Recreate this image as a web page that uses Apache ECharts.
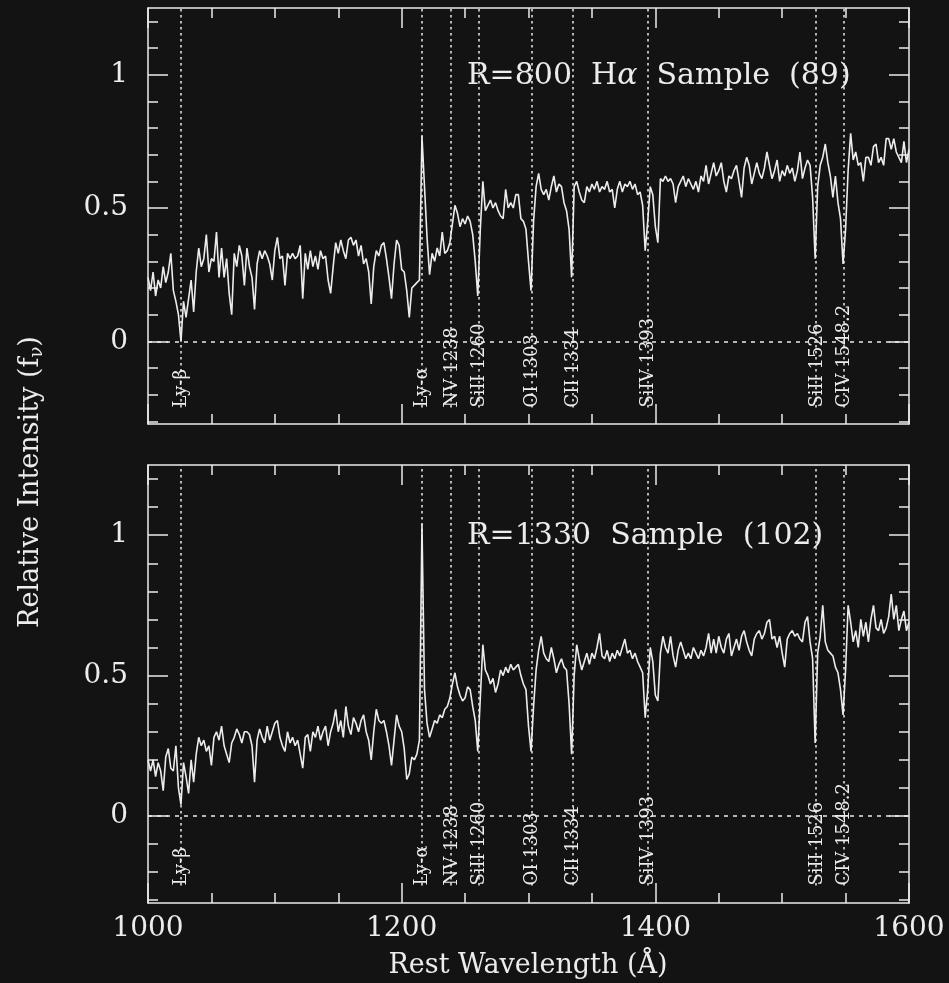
<!DOCTYPE html>
<html>
<head>
<meta charset="utf-8">
<title>Composite spectra</title>
<script src="https://cdn.jsdelivr.net/npm/echarts@6/dist/echarts.min.js"></script>
<style>
  html, body { margin: 0; padding: 0; background: #131313; }
  #chart { width: 949px; height: 983px; }
</style>
</head>
<body>
<div id="chart"></div>
<script>
// wavelength grid of both composite spectra (Å)
const waveStart = 1000;
const waveStep = 2;

// R=800 Hα sample, one value every 2 Å from 1000 to 1600
const fluxR800 = [
  0.24, 0.19, 0.26, 0.17, 0.23, 0.20, 0.28, 0.22, 0.26, 0.33,
  0.19, 0.15, 0.10, 0.00, 0.15, 0.09, 0.16, 0.23, 0.11, 0.26,
  0.35, 0.28, 0.31, 0.40, 0.26, 0.31, 0.30, 0.41, 0.24, 0.35,
  0.24, 0.31, 0.18, 0.10, 0.33, 0.28, 0.36, 0.32, 0.21, 0.35,
  0.28, 0.24, 0.12, 0.29, 0.34, 0.31, 0.34, 0.32, 0.29, 0.23,
  0.34, 0.39, 0.31, 0.32, 0.21, 0.33, 0.31, 0.33, 0.31, 0.32,
  0.36, 0.16, 0.33, 0.27, 0.34, 0.28, 0.32, 0.27, 0.34, 0.31,
  0.32, 0.23, 0.18, 0.28, 0.37, 0.33, 0.38, 0.34, 0.31, 0.38,
  0.39, 0.36, 0.38, 0.32, 0.36, 0.29, 0.31, 0.26, 0.14, 0.28,
  0.34, 0.32, 0.36, 0.37, 0.31, 0.24, 0.16, 0.29, 0.38, 0.36,
  0.27, 0.26, 0.19, 0.09, 0.20, 0.21, 0.22, 0.23, 0.77, 0.58,
  0.39, 0.25, 0.33, 0.30, 0.35, 0.32, 0.41, 0.33, 0.34, 0.37,
  0.44, 0.51, 0.48, 0.43, 0.46, 0.44, 0.47, 0.45, 0.40, 0.30,
  0.17, 0.42, 0.60, 0.49, 0.51, 0.53, 0.50, 0.52, 0.49, 0.47,
  0.46, 0.57, 0.50, 0.52, 0.50, 0.55, 0.55, 0.46, 0.45, 0.42,
  0.30, 0.19, 0.45, 0.58, 0.63, 0.57, 0.55, 0.57, 0.53, 0.58,
  0.62, 0.56, 0.59, 0.58, 0.52, 0.49, 0.42, 0.24, 0.58, 0.60,
  0.56, 0.53, 0.52, 0.58, 0.56, 0.59, 0.57, 0.60, 0.56, 0.58,
  0.57, 0.60, 0.56, 0.57, 0.50, 0.57, 0.60, 0.56, 0.59, 0.58,
  0.60, 0.57, 0.59, 0.55, 0.56, 0.51, 0.34, 0.45, 0.58, 0.55,
  0.43, 0.37, 0.61, 0.60, 0.62, 0.60, 0.61, 0.59, 0.52, 0.58,
  0.60, 0.62, 0.58, 0.61, 0.59, 0.57, 0.60, 0.56, 0.62, 0.60,
  0.66, 0.59, 0.63, 0.67, 0.62, 0.64, 0.67, 0.60, 0.56, 0.62,
  0.61, 0.64, 0.66, 0.60, 0.54, 0.65, 0.69, 0.66, 0.59, 0.63,
  0.67, 0.63, 0.61, 0.65, 0.71, 0.66, 0.61, 0.64, 0.68, 0.60,
  0.64, 0.62, 0.66, 0.63, 0.65, 0.60, 0.64, 0.71, 0.61, 0.65,
  0.68, 0.66, 0.54, 0.31, 0.58, 0.66, 0.69, 0.74, 0.67, 0.62,
  0.54, 0.62, 0.52, 0.46, 0.29, 0.42, 0.64, 0.78, 0.68, 0.71,
  0.66, 0.67, 0.60, 0.69, 0.69, 0.66, 0.73, 0.74, 0.67, 0.69,
  0.66, 0.76, 0.76, 0.72, 0.76, 0.71, 0.69, 0.67, 0.75, 0.67,
  0.72
];

// R=1330 sample, same grid
const fluxR1330 = [
  0.20, 0.16, 0.20, 0.14, 0.19, 0.16, 0.09, 0.21, 0.24, 0.17,
  0.16, 0.25, 0.10, 0.04, 0.19, 0.14, 0.08, 0.20, 0.12, 0.22,
  0.28, 0.25, 0.27, 0.23, 0.25, 0.18, 0.28, 0.30, 0.27, 0.32,
  0.25, 0.22, 0.19, 0.26, 0.28, 0.31, 0.29, 0.26, 0.30, 0.30,
  0.29, 0.25, 0.12, 0.27, 0.31, 0.28, 0.26, 0.32, 0.27, 0.30,
  0.33, 0.34, 0.28, 0.25, 0.23, 0.30, 0.26, 0.28, 0.25, 0.27,
  0.22, 0.17, 0.28, 0.29, 0.23, 0.30, 0.28, 0.32, 0.27, 0.30,
  0.32, 0.25, 0.30, 0.33, 0.38, 0.30, 0.34, 0.28, 0.39, 0.32,
  0.29, 0.35, 0.33, 0.30, 0.34, 0.36, 0.30, 0.27, 0.20, 0.30,
  0.38, 0.34, 0.33, 0.34, 0.30, 0.25, 0.18, 0.27, 0.36, 0.32,
  0.30, 0.24, 0.13, 0.15, 0.21, 0.20, 0.22, 0.27, 1.04, 0.45,
  0.33, 0.28, 0.31, 0.34, 0.33, 0.36, 0.35, 0.38, 0.39, 0.42,
  0.47, 0.51, 0.46, 0.43, 0.41, 0.42, 0.46, 0.45, 0.39, 0.34,
  0.23, 0.42, 0.61, 0.52, 0.50, 0.47, 0.49, 0.44, 0.47, 0.52,
  0.50, 0.53, 0.51, 0.54, 0.52, 0.53, 0.54, 0.50, 0.47, 0.45,
  0.32, 0.23, 0.39, 0.52, 0.59, 0.64, 0.58, 0.56, 0.55, 0.60,
  0.56, 0.51, 0.54, 0.56, 0.53, 0.52, 0.40, 0.22, 0.50, 0.61,
  0.56, 0.52, 0.55, 0.58, 0.54, 0.58, 0.56, 0.60, 0.65, 0.57,
  0.56, 0.59, 0.55, 0.58, 0.56, 0.59, 0.57, 0.60, 0.63, 0.58,
  0.59, 0.56, 0.58, 0.55, 0.53, 0.51, 0.35, 0.45, 0.60, 0.55,
  0.43, 0.41, 0.58, 0.64, 0.60, 0.58, 0.64, 0.57, 0.53, 0.59,
  0.62, 0.59, 0.56, 0.58, 0.56, 0.60, 0.58, 0.56, 0.59, 0.57,
  0.60, 0.65, 0.58, 0.63, 0.58, 0.64, 0.60, 0.58, 0.63, 0.65,
  0.57, 0.60, 0.63, 0.59, 0.64, 0.66, 0.62, 0.59, 0.57, 0.63,
  0.65, 0.66, 0.63, 0.65, 0.69, 0.70, 0.63, 0.64, 0.60, 0.64,
  0.58, 0.53, 0.63, 0.65, 0.66, 0.64, 0.65, 0.63, 0.62, 0.69,
  0.71, 0.62, 0.56, 0.26, 0.58, 0.64, 0.75, 0.62, 0.59, 0.58,
  0.57, 0.53, 0.51, 0.45, 0.36, 0.52, 0.75, 0.69, 0.62, 0.66,
  0.60, 0.70, 0.64, 0.69, 0.62, 0.70, 0.75, 0.67, 0.66, 0.70,
  0.65, 0.67, 0.71, 0.79, 0.70, 0.75, 0.66, 0.70, 0.73, 0.66,
  0.69
];

// identified lines
const lineWaves = [1025.7, 1215.7, 1238.8, 1260.4, 1302.2, 1334.5, 1393.8, 1526.7, 1548.2];
const lineNames = ['Ly-β', 'Ly-α', 'NV 1238', 'SiII 1260', 'OI 1303', 'CII 1334', 'SiIV 1393', 'SiII 1526', 'CIV 1548.2'];

// axes
const xMin = 1000, xMax = 1600, xStep = 200;
const yMin = -0.31, yMax = 1.25;
const yMajorTicks = [0, 0.5, 1];
const yMinorTicks = [-0.3, -0.2, -0.1, 0.1, 0.2, 0.3, 0.4, 0.6, 0.7, 0.8, 0.9, 1.1, 1.2];
const lineLabelBase = -0.248;

const ink = '#ececec';
const serif = '"DejaVu Serif", "Liberation Serif", serif';

const panels = [
  { flux: fluxR800, top: 8, height: 416, title: 'R=800  H{it|α}  Sample  (89)', titleY: 76 },
  { flux: fluxR1330, top: 465, height: 438, title: 'R=1330  Sample  (102)', titleY: 536 }
];

const chart = echarts.init(document.getElementById('chart'), null, { renderer: 'canvas' });

const grids = [], xAxes = [], yAxes = [], series = [];
const tickStyle = { color: ink, width: 1.5 };

panels.forEach((p, i) => {
  grids.push({ left: 148, width: 761, top: p.top, height: p.height });

  ['bottom', 'top'].forEach(pos => {
    xAxes.push({
      type: 'value', gridIndex: i, position: pos,
      min: xMin, max: xMax, interval: xStep,
      axisLine: { show: true, onZero: false, lineStyle: tickStyle },
      axisTick: { show: true, inside: true, length: 20, lineStyle: tickStyle },
      minorTick: { show: true, splitNumber: 4, length: 10, lineStyle: tickStyle },
      splitLine: { show: false },
      axisLabel: {
        show: pos === 'bottom' && i === panels.length - 1,
        formatter: v => String(v),
        color: ink, fontFamily: serif, fontSize: 28, margin: 12
      }
    });
  });

  ['left', 'right'].forEach(pos => {
    yAxes.push({
      type: 'value', gridIndex: i, position: pos, min: yMin, max: yMax,
      axisLine: { show: true, onZero: false, lineStyle: tickStyle },
      axisTick: { show: true, inside: true, length: 20, customValues: yMajorTicks, lineStyle: tickStyle },
      splitLine: { show: false },
      axisLabel: {
        show: pos === 'left', customValues: yMajorTicks,
        formatter: v => String(v),
        color: ink, fontFamily: serif, fontSize: 28, margin: 20
      }
    });
    yAxes.push({
      type: 'value', gridIndex: i, position: pos, min: yMin, max: yMax,
      axisLine: { show: false, onZero: false },
      axisTick: { show: true, inside: true, length: 10, customValues: yMinorTicks, lineStyle: tickStyle },
      splitLine: { show: false },
      axisLabel: { show: false }
    });
  });

  const markData = lineWaves.map(w => [
    { coord: [w, lineLabelBase], lineStyle: { type: [2.5, 3.5], width: 1.5, color: ink } },
    { coord: [w, yMax] }
  ]);
  markData.push([
    { coord: [xMin, 0], lineStyle: { type: [4, 5], width: 1.5, color: ink } },
    { coord: [xMax, 0] }
  ]);

  series.push({
    type: 'line',
    xAxisIndex: 2 * i,
    yAxisIndex: 4 * i,
    data: p.flux.map((v, k) => [waveStart + k * waveStep, v]),
    showSymbol: false,
    symbol: 'none',
    lineStyle: { color: ink, width: 1.6 },
    animation: false,
    silent: true,
    markLine: {
      silent: true, animation: false,
      symbol: ['none', 'none'],
      label: { show: false },
      data: markData
    }
  });
});

chart.setOption({
  backgroundColor: '#131313',
  animation: false,
  grid: grids,
  xAxis: xAxes,
  yAxis: yAxes,
  series: series
});

// panel titles, line identifications and axis titles
const graphics = [];
panels.forEach((p, i) => {
  graphics.push({
    type: 'text', x: 467, y: p.titleY,
    style: {
      text: p.title, fill: ink, font: '30px ' + serif, verticalAlign: 'middle',
      rich: { it: { fontStyle: 'italic', fontSize: 30, fontFamily: serif, fill: ink } }
    }
  });
  lineWaves.forEach((w, k) => {
    const pt = chart.convertToPixel({ seriesIndex: i }, [w, lineLabelBase]);
    graphics.push({
      type: 'text', x: pt[0] + 1, y: pt[1], rotation: Math.PI / 2,
      style: { text: lineNames[k], fill: ink, font: '18px ' + serif, align: 'left', verticalAlign: 'middle' }
    });
  });
});
graphics.push({
  type: 'text', x: 31, y: 482, rotation: Math.PI / 2,
  style: {
    text: 'Relative Intensity (f{sub|ν})', fill: ink, font: '27px ' + serif,
    align: 'center', verticalAlign: 'middle',
    rich: { sub: { fontSize: 18, fontFamily: serif, fill: ink, padding: [12, 0, 0, 0] } }
  }
});
graphics.push({
  type: 'text', x: 528, y: 966,
  style: { text: 'Rest Wavelength (Å)', fill: ink, font: '27px ' + serif, align: 'center', verticalAlign: 'middle' }
});
chart.setOption({ graphic: graphics });
</script>
</body>
</html>
